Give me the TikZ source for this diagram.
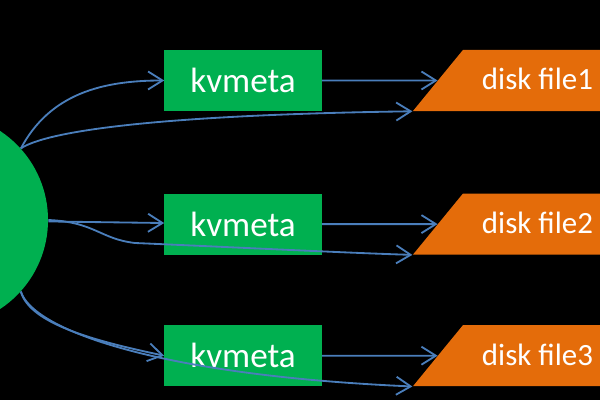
\documentclass[tikz,border=0pt]{standalone}
\usepackage{fontspec}
\setmainfont{Carlito}
\usepackage{tikz}
\usetikzlibrary{shapes}
\usetikzlibrary{arrows.meta}
\usetikzlibrary{positioning}
\definecolor{kvgreen}{HTML}{00B050}
\definecolor{fileorange}{HTML}{E46C0A}
\definecolor{linkblue}{HTML}{4A7EBB}
\tikzstyle{kvbox} = [rectangle,fill=kvgreen,text=white,inner sep=0pt,
minimum width=3.925cm, minimum height=1.525cm, font=\fontsize{25}{30}\selectfont]
\tikzstyle{diskfile} = [trapezium,trapezium left angle=50.7,trapezium right angle=90,
trapezium stretches body=true,fill=fileorange,text=white,inner sep=0pt,
text height=1.0cm, text depth=0.525cm,
minimum width=4.975cm, font=\fontsize{22}{26}\selectfont]
\tikzstyle{flow} = [draw=linkblue, line width=1.3pt,
-{Straight Barb[length=0.36cm, width=0.45cm]}]
\newcommand{\fedge}[3][]{ %
  % Connect all nodes #2 to all nodes #3.
  \foreach \src in {#2} { %
    \foreach \dst in {#3} { %
      \path (\src) edge [flow, #1] (\dst) ;%
    } ;
  } ;
}

\begin{document}
\begin{tikzpicture}[x=0.025cm, y=0.025cm]
  \useasboundingbox (0,0) rectangle (600,400);
  \fill[black] (0,0) rectangle (600,400);
  \clip (0,0) rectangle (600,400);
  % source
  \node[circle, fill=kvgreen, minimum size=5.33cm, inner sep=0pt] (client) at (-58.6,180) {};
  % kvmeta
  \node[kvbox]                         (kv1) at (243,319.5) {kvmeta};
  \node[kvbox, below = 2.05cm of kv1]  (kv2) {kvmeta};
  \node[kvbox, below = 1.75cm of kv2]  (kv3) {kvmeta};
  % disk files
  \node[diskfile, right = 7.36cm of kv1.center, anchor=center] (file1) {disk file1};
  \node[diskfile, right = 7.36cm of kv2.center, anchor=center] (file2) {disk file2};
  \node[diskfile, right = 7.36cm of kv3.center, anchor=center] (file3) {disk file3};

  % edges
  % upper
  \draw[flow] (client.42) to[out=62, in=180] (kv1.west);
  \draw[flow] (client.42) .. controls (45,268) and (150,285) .. (file1.bottom left corner);
  % middle
  \fedge {client} {kv2}
  \draw[flow] (client.east) .. controls (95,178) and (100,161) .. (135,157)
    .. controls (250,152) and (350,147) .. (file2.bottom left corner);
  % lower
  \draw[flow] (client.-42) .. controls (30,75) and (100,58) .. (kv3.west);
  \draw[flow] (client.-42) .. controls (32,72) and (150,25) .. (file3.bottom left corner);
  % kvmeta to disk
  \fedge {kv1} {file1}
  \fedge {kv2} {file2}
  \fedge {kv3} {file3}
\end{tikzpicture}
\end{document}
